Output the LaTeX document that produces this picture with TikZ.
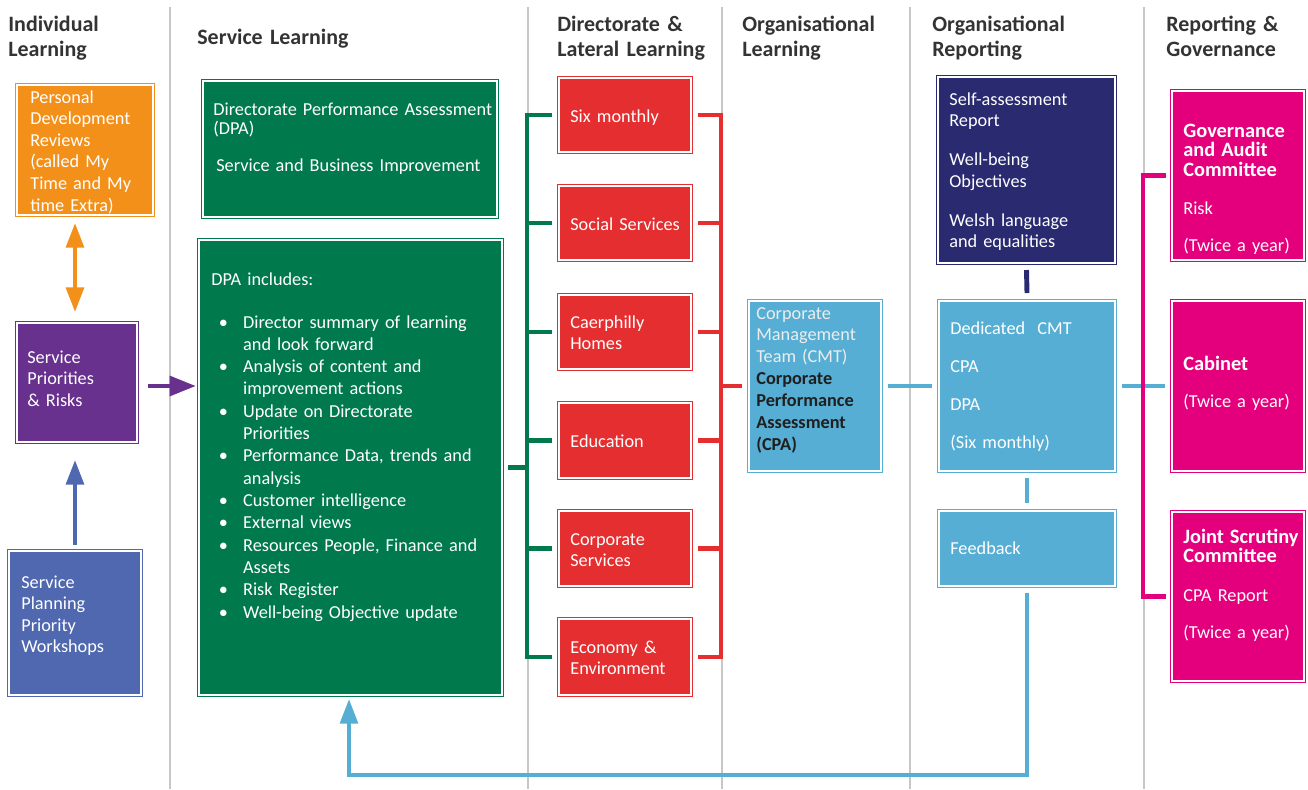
\documentclass[tikz,border=0pt]{standalone}
\usepackage{fontspec}
\setmainfont{Carlito}
\usetikzlibrary{arrows.meta,calc,fit}

\definecolor{orangeC}{HTML}{F39019}
\definecolor{purpleC}{HTML}{68318E}
\definecolor{slateC}{HTML}{5068B0}
\definecolor{greenC}{HTML}{007A4D}
\definecolor{redC}{HTML}{E52E2F}
\definecolor{skyC}{HTML}{56AED4}
\definecolor{navyC}{HTML}{2A2A71}
\definecolor{pinkC}{HTML}{E4007C}
\definecolor{headC}{HTML}{333333}
\definecolor{cmtLight}{HTML}{EDEDED}

\newcommand{\itm}{\makebox[18.1pt][l]{\hspace{4.3pt}\textbullet}}
\newcommand{\cont}{\hspace*{18.1pt}}

\tikzset{
  box/.style={draw=#1, fill=#1, double=white, double distance=0.6pt, line width=1pt, inner sep=0pt, outer sep=0pt},
  txt/.style={anchor=base west, align=left, text width=7cm, inner sep=0pt, text=white, font=\fontsize{10.4}{12.3}\selectfont},
  head/.style={anchor=base west, align=left, text width=4cm, inner sep=0pt, text=headC, font=\bfseries\fontsize{12.5}{14.7}\selectfont},
  bus/.style={draw=#1, line width=2.8pt},
  arr/.style={draw=#1, line width=2.4pt, -{Triangle[length=14pt,width=10pt]}},
  divider/.style={draw=black!22, line width=0.8pt}
}

\begin{document}
\begin{tikzpicture}[x=0.02cm, y=-0.02cm]

      \useasboundingbox (0,0) rectangle (1308,789);

      \foreach \x in {170,528,722,910,1144}
        \draw[divider] (\x,7) -- (\x,789);

      \begin{scope}[every node/.style={head}]
        \node (hInd)  at (8,31)    {Individual\\Learning};
        \node (hSrv)  at (197,44)  {Service Learning};
        \node (hDir)  at (557,31)  {Directorate \&\\Lateral Learning};
        \node (hOrgL) at (742,31)  {Organisational\\Learning};
        \node (hOrgR) at (932,31)  {Organisational\\Reporting};
        \node (hRep)  at (1166,31) {Reporting \&\\Governance};
      \end{scope}

      \node[box=orangeC, fit={(17,85) (153,215)}]   (pdr)    {};
      \node[box=purpleC, fit={(17,323) (137,442)}]  (spr)    {};
      \node[box=slateC,  fit={(9,551) (141,695)}]   (spw)    {};
      \node[box=greenC,  fit={(203,81) (497,217)}]  (dpa)    {};
      \node[box=greenC,  fit={(199,240) (502,695)}] (dpaInc) {};
      \node[box=redC,    fit={(559,78) (691,152)}]  (sixm)   {};
      \node[box=redC,    fit={(559,186) (691,260)}] (socs)   {};
      \node[box=redC,    fit={(559,295) (691,369)}] (chom)   {};
      \node[box=redC,    fit={(559,403) (691,478)}] (educ)   {};
      \node[box=redC,    fit={(559,511) (691,586)}] (cors)   {};
      \node[box=redC,    fit={(559,619) (691,695)}] (ecoe)   {};
      \node[box=skyC,    fit={(749,301) (881,471)}] (cmt)    {};
      \node[box=navyC,   fit={(938,77) (1115,263)}] (sar)    {};
      \node[box=skyC,    fit={(939,301) (1115,471)}] (dcmt)  {};
      \node[box=skyC,    fit={(939,511) (1115,586)}] (fdbk)  {};
      \node[box=pinkC,   fit={(1172,91) (1304,260)}] (gac)   {};
      \node[box=pinkC,   fit={(1172,301) (1304,471)}] (cab)  {};
      \node[box=pinkC,   fit={(1172,512) (1304,681)}] (jsc)  {};

      \begin{scope}[every node/.style={txt}]
        \node (pdrT) at (30,103) {Personal\\Development\\Reviews\\(called My\\Time and My\\time Extra)};
        \node (sprT) at (27,363) {Service\\Priorities\\\& Risks};
        \node (spwT) at (21,588) {Service\\Planning\\Priority\\Workshops};
        \node[font=\fontsize{10.4}{11.3}\selectfont] (dpaT) at (213,115)
          {Directorate Performance Assessment\\(DPA)\\[9.6pt]\hspace*{1.7pt}Service and Business Improvement};
        \node (dpaIncT) at (211,285) {DPA includes:};
        \node[font=\fontsize{10.4}{12.7}\selectfont] (dpaList) at (211,328)
          {\itm Director summary of learning\\\cont and look forward\\
           \itm Analysis of content and\\\cont improvement actions\\
           \itm Update on Directorate\\\cont Priorities\\
           \itm Performance Data, trends and\\\cont analysis\\
           \itm Customer intelligence\\
           \itm External views\\
           \itm Resources People, Finance and\\\cont Assets\\
           \itm Risk Register\\
           \itm Well-being Objective update};
        \node (sixmT) at (570,122) {Six monthly};
        \node (socsT) at (570,230) {Social Services};
        \node (chomT) at (570,328) {Caerphilly\\Homes};
        \node (educT) at (570,447) {Education};
        \node (corsT) at (570,545) {Corporate\\Services};
        \node (ecoeT) at (570,653) {Economy \&\\Environment};
        \node[font=\fontsize{10.4}{12.5}\selectfont] (cmtT) at (756,319)
          {{\color{cmtLight}Corporate\\Management\\Team (CMT)}\\
           {\bfseries\color{black!88}Corporate\\Performance\\Assessment\\(CPA)}};
        \node (sarT) at (949,105) {Self-assessment\\Report\\[9.9pt]Well-being\\Objectives\\[9.9pt]Welsh language\\and equalities};
        \node (dcmtT) at (950,334) {Dedicated\ \ CMT\\[9.5pt]CPA\\[9.5pt]DPA\\[9.5pt](Six monthly)};
        \node (fdbkT) at (950,554) {Feedback};
        \node[font=\fontsize{10.4}{11.3}\selectfont] (gacT) at (1183,137)
          {{\bfseries\fontsize{11.6}{11.3}\selectfont Governance\\and Audit\\Committee}\\[10pt]Risk\\[10pt](Twice a year)};
        \node[font=\fontsize{10.4}{11.3}\selectfont] (cabT) at (1183,370)
          {{\bfseries\fontsize{11.6}{11.3}\selectfont Cabinet}\\[10pt](Twice a year)};
        \node[font=\fontsize{10.4}{11.3}\selectfont] (jscT) at (1183,543)
          {{\bfseries\fontsize{11.6}{11.3}\selectfont Joint Scrutiny\\Committee}\\[10.5pt]CPA Report\\[10pt](Twice a year)};
      \end{scope}

      \coordinate (ax)   at (75,0);
      \coordinate (gbus) at (527,0);
      \coordinate (rbus) at (721,0);
      \coordinate (pkt)  at (1143,386);
      \coordinate (fbl)  at (349,775);

      \draw[arr=orangeC, {Triangle[length=14pt,width=10pt]}-{Triangle[length=14pt,width=10pt]}]
        ($(pdr.south -| ax)+(0,8)$) -- ($(spr.north -| ax)+(0,-11)$);
      \draw[arr=slateC] ($(spw.north -| ax)+(0,-6)$) -- ($(spr.south -| ax)+(0,18)$);
      \draw[arr=purpleC, line width=2.8pt, -{Triangle[length=15pt,width=11pt]}]
        ($(spr.east)+(11,3.5)$) -- ($(spr.east -| dpaInc.west)+(-3,3.5)$);

      \draw[bus=greenC] ($(dpaInc.east)+(6,0)$) -- (dpaInc.east -| gbus);
      \draw[bus=greenC] ($(sixm.west)+(-7,0)$) -| (ecoe.west -| gbus) -- ($(ecoe.west)+(-7,0)$);
      \foreach \n in {socs,chom,educ,cors}
        \draw[bus=greenC] (\n.west -| gbus) -- ($(\n.west)+(-7,0)$);

      \draw[bus=redC, line width=2.5pt] ($(sixm.east)+(7,0)$) -| (ecoe.east -| rbus) -- ($(ecoe.east)+(7,0)$);
      \foreach \n in {socs,chom,educ,cors}
        \draw[bus=redC, line width=2.5pt] (\n.east -| rbus) -- ($(\n.east)+(7,0)$);
      \draw[bus=redC, line width=2.5pt] (cmt.west -| rbus) -- ($(cmt.west)+(-7,0)$);

      \draw[bus=skyC] ($(cmt.east)+(7,0)$) -- ($(dcmt.west)+(-7,0)$);
      \draw[bus=skyC] ($(dcmt.east)+(7,0)$) -- ($(cab.west)+(-7,0)$);
      \draw[bus=navyC] ($(sar.south)+(0,7)$) -- ($(dcmt.north)+(0,-8)$);
      \draw[bus=skyC] ($(dcmt.south)+(0,7)$) -- ($(fdbk.north)+(0,-8)$);

      \draw[bus=pinkC, line width=2.3pt] ($(gac.west)+(-6,0)$) -| (pkt) |- ($(jsc.west)+(-6,0)$);

      \draw[arr=skyC] ($(fdbk.south)+(0,7)$) |- (fbl) -- ($(fbl |- dpaInc.south)+(0,4)$);

    \end{tikzpicture}
\end{document}
